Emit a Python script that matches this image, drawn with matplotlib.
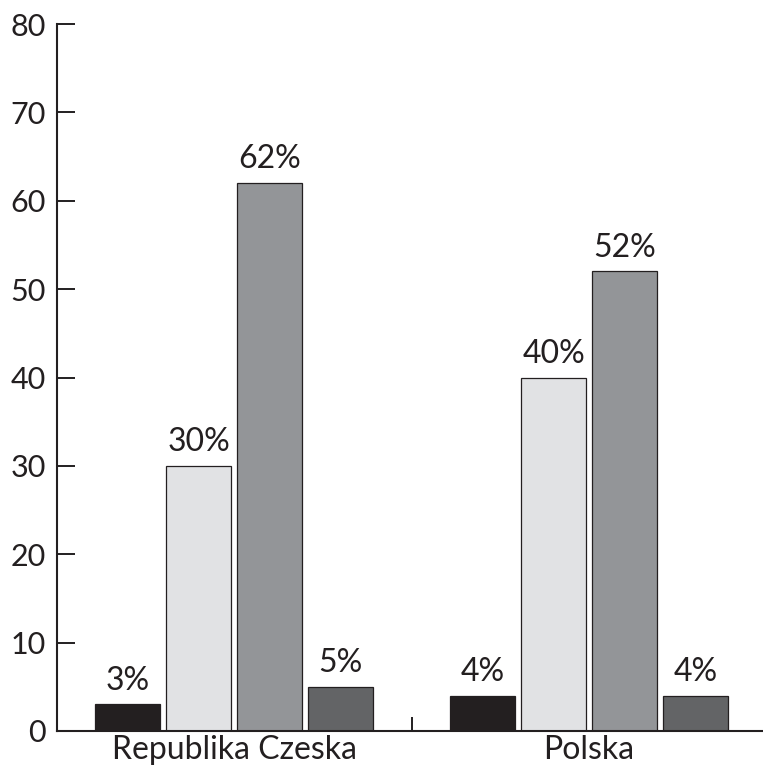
import matplotlib
matplotlib.use("Agg")
import matplotlib.pyplot as plt
import numpy as np

categories = ["Republika Czeska", "Polska"]
series_values = [
    [3, 4],
    [30, 40],
    [62, 52],
    [5, 4],
]
series_colors = ["#231f20", "#e1e2e4", "#939598", "#636466"]
y_ticks = [0, 10, 20, 30, 40, 50, 60, 70, 80]

plt.rcParams['font.family'] = ['Lato', 'DejaVu Sans']

fig = plt.figure(figsize=(7.63, 7.73), dpi=100)
ax = fig.add_axes([57/763, 1-731/773, 1-57/763, (731-24)/773])

x = np.arange(len(categories))
offsets = [-0.3, -0.1, 0.1, 0.3]
width = 0.183
for vals, off, col in zip(series_values, offsets, series_colors):
    bars = ax.bar(x + off, vals, width=width, color=col, edgecolor="#231f20", linewidth=0.9, zorder=2)
    for b, v in zip(bars, vals):
        ax.text(b.get_x() + b.get_width()/2, v + 1.0, f"{v}%", ha="center", va="bottom",
                fontsize=23, color="#231f20")

ax.set_xlim(-0.5, 1.49)
ax.set_ylim(0, 80)
ax.set_yticks(y_ticks)
ax.set_yticklabels([str(t) for t in y_ticks], fontsize=22, color="#231f20")
ax.set_xticks(x)
ax.set_xticklabels(categories, fontsize=23, color="#231f20")
ax.set_xticks([0.5], minor=True)
ax.tick_params(axis="x", which="major", length=0, pad=3)
ax.tick_params(axis="x", which="minor", direction="in", length=10, width=1.4, color="#231f20")
ax.tick_params(axis="y", direction="in", length=13, width=1.4, color="#231f20", pad=8)
for s in ["top", "right"]:
    ax.spines[s].set_visible(False)
for s in ["left", "bottom"]:
    ax.spines[s].set_linewidth(1.5)
    ax.spines[s].set_color("#231f20")
ax.spines["bottom"].set_zorder(3)

fig.savefig("out.png", dpi=100)
